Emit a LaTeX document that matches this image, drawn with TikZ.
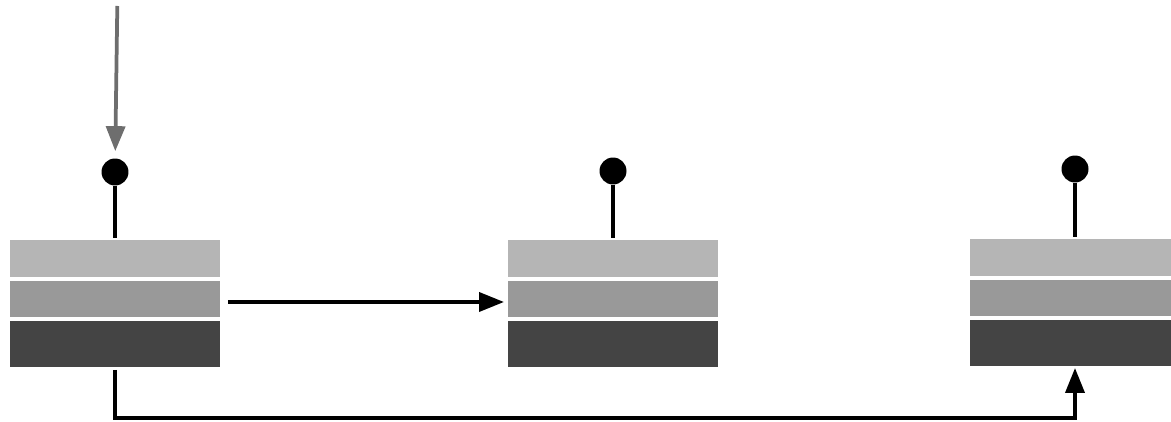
\documentclass[tikz,border=0pt]{standalone}
\usepackage{tikz}
\usetikzlibrary{arrows.meta,positioning}

\begin{document}
\begin{tikzpicture}[
x=0.02cm, y=-0.02cm,
node distance=0.08cm,
camada/.style={
rectangle,
inner sep=0pt,
outer sep=0pt,
minimum width=4.2cm
},
clara/.style={camada, fill={rgb,255:red,181;green,181;blue,181}, minimum height=0.74cm},
media/.style={camada, fill={rgb,255:red,153;green,153;blue,153}, minimum height=0.72cm},
escura/.style={camada, fill={rgb,255:red,68;green,68;blue,68}, minimum height=0.92cm},
pino/.style={circle, fill=black, inner sep=0pt, minimum size=0.54cm},
haste/.style={line width=0.075cm, shorten >=0.04cm},
seta/.style={-{Triangle[length=0.5cm,width=0.38cm]}, line width=0.075cm},
entrada/.style={seta, draw={rgb,255:red,110;green,110;blue,110}}
]
\clip (0,0) rectangle (1171,422);

% pilhas
\node[clara] (a1) at (115,258.5) {};
\node[media, below=of a1] (a2) {};
\node[escura, below=of a2] (a3) {};

\node[clara] (b1) at (613,258.5) {};
\node[media, below=of b1] (b2) {};
\node[escura, below=of b2] (b3) {};

\node[clara] (c1) at (1075,257.5) {};
\node[media, below=of c1] (c2) {};
\node[escura, below=of c2] (c3) {};

% pinos
\node[pino] (p1) at (115,172) {};
\node[pino] (p2) at (613,171) {};
\node[pino] (p3) at (1075,169) {};

\draw[haste] (p1) -- (a1);
\draw[haste] (p2) -- (b1);
\draw[haste] (p3) -- (c1);

% ligacoes
\coordinate (topo) at (117.3,6);
\coordinate (baixo) at (115,418);

\draw[entrada, shorten >=0.14cm] (topo) -- (p1);
\draw[seta, shorten <=0.16cm, shorten >=0.08cm] ([yshift=-0.06cm]a2.east) -- ([yshift=-0.06cm]b2.west);
\draw[seta, shorten <=0.06cm, shorten >=0.04cm] (a3.south) -- (baixo) -| (c3.south);
\end{tikzpicture}
\end{document}
